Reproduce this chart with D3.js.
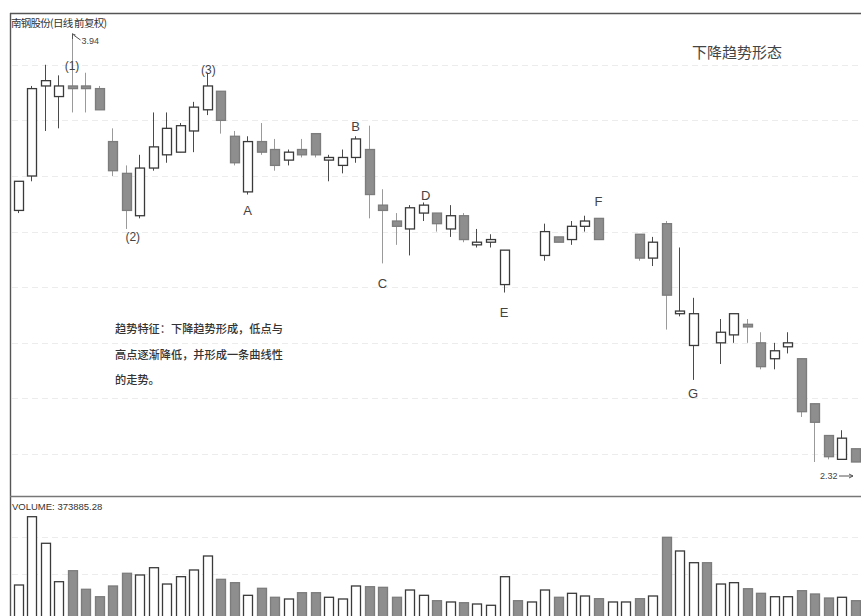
<!DOCTYPE html>
<html><head><meta charset="utf-8">
<script src="https://cdn.jsdelivr.net/npm/d3@7"></script>
<style>html,body{margin:0;padding:0;background:#fff;} svg{display:block}</style>
</head><body>
<svg id="c" width="861" height="616"></svg>
<script>
// ---------- data (null = no candle drawn) ----------
const openP = [3.27,3.40,3.74,3.70,3.74,3.74,3.73,3.53,3.41,3.25, 3.43,3.48,3.49,3.57,3.65,3.72,3.55,3.34,3.53,3.50,
  3.46,3.50,3.56,3.46,3.44,3.47,3.50,3.29,3.23,3.20, 3.26,3.26,3.20,3.25,3.14,3.15,2.99,null,null,3.10,
  3.17,3.16,3.21,3.24,null,null,3.18,3.09,3.22,2.88, 2.76,null,2.77,2.80,2.84,2.77,2.71,2.755,2.71,2.54,
  2.42,2.33,2.37];
const closeP = [3.38,3.73,3.76,3.74,3.73,3.73,3.65,3.42,3.27,3.43, 3.51,3.58,3.59,3.66,3.74,3.61,3.45,3.53,3.49,3.44,
  3.49,3.48,3.48,3.47,3.47,3.54,3.33,3.27,3.21,3.28, 3.29,3.22,3.25,3.16,3.15,3.16,3.12,null,null,3.19,
  3.15,3.21,3.23,3.16,null,null,3.09,3.15,2.95,2.89, 2.88,null,2.81,2.88,2.83,2.68,2.74,2.77,2.51,2.47,
  2.34,2.41,2.32];
const highP = [3.38,3.74,3.82,3.78,3.94,3.79,3.74,3.58,3.44,3.48, 3.64,3.64,3.60,3.68,3.79,3.72,3.57,3.55,3.60,3.54,
  3.50,3.54,3.56,3.48,3.50,3.55,3.59,3.35,3.26,3.29, 3.30,3.26,3.29,3.26,3.20,3.18,3.12,null,null,3.22,
  3.17,3.23,3.25,3.24,null,null,3.18,3.17,3.23,3.13, 2.94,null,2.86,2.88,2.86,2.81,2.77,2.81,2.71,2.54,
  2.42,2.44,2.37];
const lowP = [3.26,3.38,3.57,3.58,3.64,3.64,3.65,3.40,3.20,3.24, 3.42,3.45,3.49,3.49,3.63,3.56,3.44,3.33,3.48,3.42,
  3.44,3.47,3.47,3.38,3.41,3.45,3.24,3.07,3.14,3.10, 3.23,3.19,3.17,3.15,3.13,3.13,2.96,null,null,3.08,
  3.15,3.14,3.19,3.16,null,null,3.08,3.06,2.82,2.87, 2.63,null,2.69,2.77,2.77,2.67,2.67,2.73,2.49,2.32,
  2.33,2.33,2.32];
const volume = [678000,2001000,1486000,742000,955000,595000,451000,659000,905000,872000,
  1013000,697000,839000,969000,1240000,788000,723000,478000,614000,440000,
  407000,529000,529000,440000,407000,659000,645000,633000,440000,581000,
  478000,374000,349000,335000,310000,285000,839000,374000,349000,581000,
  440000,517000,465000,413000,349000,349000,413000,465000,1602000,1337000,
  1110000,1110000,697000,723000,606000,517000,451000,451000,568000,504000,
  426000,440000,373885.28];
const volUp = [1,1,1,1,0,0,0,0,0,1, 1,1,1,1,1,0,0,1,0,0, 1,0,0,1,1,1,0,0,0,1,
  1,0,1,0,1,1,1,0,1,1, 0,1,1,0,1,1,0,1,0,1, 1,0,1,1,0,0,1,1,0,0, 0,1,0];

const labelText  = ["(1)","(2)","(3)","A","B","C","D","E","F","G"];
const labelIndex = [4, 8.5, 14.1, 17, 25, 27, 30.2, 36, 43, 50];
const labelPrice = [3.80, 3.155, 3.785, 3.253, 3.570, 2.977, 3.309, 2.868, 3.287, 2.562];

const gridPrices = [3.82, 3.61, 3.40, 3.19, 2.98, 2.77, 2.56, 2.35];
const gridVolumes = [1600000, 900000];

const titleText = "南钢股份(日线 前复权)";
const patternTitle = "下降趋势形态";
const noteLines = ["趋势特征：下降趋势形成，低点与", "高点逐渐降低，并形成一条曲线性", "的走势。"];
const volLabel = "VOLUME: 373885.28";
const maxLabel = "3.94", minLabel = "2.32";

// ---------- scales ----------
const n = volume.length;
const svg = d3.select("#c");
const xs = d3.scaleLinear().domain([0, n - 1]).range([17.5, 17.5 + 13.5 * (n - 1)]);
const yP = d3.scaleLinear().domain([2.32, 3.94]).range([462, 33]);
const yV = d3.scaleLinear().domain([0, 2000000]).range([620, 516.76]);

const DARK = "#3a3a3a", GRAY = "#8e8e8e", GRAYS = "#7c7c7c";

// ---------- faint grid ----------
svg.append("g").selectAll("line").data(gridPrices).join("line")
  .attr("x1", 12).attr("x2", 861).attr("y1", d => Math.round(yP(d)) + 0.5).attr("y2", d => Math.round(yP(d)) + 0.5)
  .attr("stroke", "#ececec").attr("stroke-dasharray", "6,4");
svg.append("g").selectAll("line").data(gridVolumes).join("line")
  .attr("x1", 12).attr("x2", 861).attr("y1", d => Math.round(yV(d)) + 0.5).attr("y2", d => Math.round(yV(d)) + 0.5)
  .attr("stroke", "#ececec").attr("stroke-dasharray", "6,4");

// ---------- frame ----------
svg.append("line").attr("x1",10).attr("x2",861).attr("y1",13.5).attr("y2",13.5).attr("stroke","#555").attr("stroke-width",1.6);
svg.append("line").attr("x1",10.5).attr("x2",10.5).attr("y1",13).attr("y2",616).attr("stroke","#555").attr("stroke-width",1.4);
svg.append("line").attr("x1",10).attr("x2",861).attr("y1",496.5).attr("y2",496.5).attr("stroke","#777").attr("stroke-width",1.3);

// ---------- candles ----------
const candles = d3.range(n).filter(i => openP[i] != null).map(i => ({
  i, o: openP[i], c: closeP[i], h: highP[i], l: lowP[i], up: closeP[i] >= openP[i]
}));
const g = svg.append("g");
const cg = g.selectAll("g.c").data(candles).join("g");
cg.append("line")
  .attr("x1", d => Math.round(xs(d.i)) + 0.5).attr("x2", d => Math.round(xs(d.i)) + 0.5)
  .attr("y1", d => yP(d.h)).attr("y2", d => yP(d.l))
  .attr("stroke", d => d.up ? "#4a4a4a" : "#9a9a9a").attr("stroke-width", 1);
cg.append("rect")
  .attr("x", d => Math.round(xs(d.i)) - 3.5).attr("width", 9)
  .attr("y", d => yP(Math.max(d.o, d.c)))
  .attr("height", d => Math.max(2.5, Math.abs(yP(d.o) - yP(d.c))))
  .attr("fill", d => d.up ? "#fff" : GRAY)
  .attr("stroke", d => d.up ? DARK : GRAYS).attr("stroke-width", 1.3);

// ---------- volume ----------
svg.append("g").selectAll("rect").data(d3.range(n)).join("rect")
  .attr("x", i => Math.round(xs(i)) - 3.5).attr("width", 9)
  .attr("y", i => yV(volume[i])).attr("height", i => yV(0) - yV(volume[i]))
  .attr("fill", i => volUp[i] ? "#fff" : GRAY)
  .attr("stroke", i => volUp[i] ? DARK : GRAYS).attr("stroke-width", 1.3);

// ---------- texts ----------
const sans = "'Liberation Sans', Arial, sans-serif";
const cjk = "'Noto Sans CJK SC', 'Noto Sans', sans-serif";
svg.append("text").attr("x", 11).attr("y", 27).attr("font-family", cjk).attr("font-size", 10.5)
  .attr("fill", "#333").attr("textLength", 96).text(titleText);
svg.append("text").attr("x", 12).attr("y", 510).attr("font-family", sans).attr("font-size", 9.5)
  .attr("fill", "#333").text(volLabel);

// labels
svg.append("g").selectAll("text").data(labelText).join("text")
  .attr("x", (t, k) => xs(labelIndex[k]) + 0.5)
  .attr("y", (t, k) => yP(labelPrice[k]))
  .attr("text-anchor", "middle").attr("font-family", sans)
  .attr("font-size", (t) => t.length > 1 ? 12 : 13)
  .attr("fill", "#444").text(t => t);

// max / min markers
const iMax = highP.indexOf(d3.max(highP));
const mx = Math.round(xs(iMax)) + 0.5, my = yP(d3.max(highP));
svg.append("path").attr("d", `M${mx + 8},${my + 7} L${mx + 1},${my + 2}`).attr("stroke","#555").attr("fill","none").attr("stroke-width",1);
svg.append("path").attr("d", `M${mx},${my + 1} l0,5 M${mx},${my + 1} l3,1`).attr("stroke","#555").attr("fill","none").attr("stroke-width",1);
svg.append("text").attr("x", mx + 9).attr("y", my + 11).attr("font-family", sans).attr("font-size", 9)
  .attr("fill", "#444").text(maxLabel);

const iMin = n - 1;
const nx = Math.round(xs(iMin)), ny = yP(d3.min(lowP.filter(v => v != null)));
svg.append("text").attr("x", nx - 35).attr("y", ny + 17).attr("font-family", sans).attr("font-size", 9)
  .attr("fill", "#444").text(minLabel);
svg.append("path").attr("d", `M${nx - 16},${ny + 14} L${nx - 2},${ny + 14} M${nx - 2},${ny + 14} l-4,-2 M${nx - 2},${ny + 14} l-4,2`)
  .attr("stroke","#555").attr("fill","none").attr("stroke-width",1);

// pattern title
svg.append("text").attr("x", 692).attr("y", 58).attr("font-family", cjk).attr("font-size", 15)
  .attr("fill", "#444").text(patternTitle);

// note
svg.append("g").selectAll("text").data(noteLines).join("text")
  .attr("x", 115).attr("y", (t, k) => 333 + k * 25.5)
  .attr("font-family", cjk).attr("font-size", 11.2).attr("font-weight", 500)
  .attr("fill", "#333").text(t => t);
</script>
</body></html>
